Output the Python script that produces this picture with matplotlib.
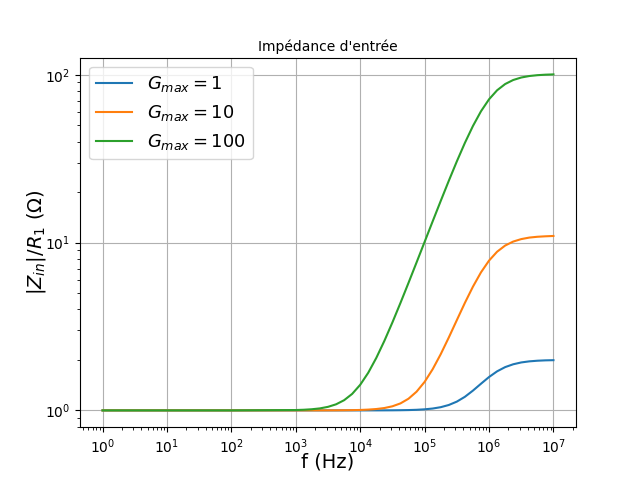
import numpy as np
import matplotlib
matplotlib.use('Agg')
import matplotlib.pyplot as plt

# frequency exponents (log10 Hz), read at eighth decades in the transition
f_exp = [0, 1, 2, 3, 3.125, 3.25, 3.375, 3.5, 3.625, 3.75, 3.875,
         4, 4.125, 4.25, 4.375, 4.5, 4.625, 4.75, 4.875,
         5, 5.125, 5.25, 5.375, 5.5, 5.625, 5.75, 5.875,
         6, 6.125, 6.25, 6.375, 6.5, 6.625, 6.75, 6.875, 7]

# |Zin|/R1
z_g1 = [1.0, 1.0, 1.0, 1.0, 1.0, 1.0, 1.0, 1.0, 1.0, 1.0, 1.0,
        1.0001, 1.0003, 1.0005, 1.0009, 1.0015, 1.0027, 1.0046, 1.0083,
        1.015, 1.026, 1.045, 1.077, 1.128, 1.205, 1.312, 1.442,
        1.581, 1.709, 1.811, 1.883, 1.931, 1.960, 1.977, 1.987, 1.992]
z_g10 = [1.0, 1.0, 1.0, 1.0, 1.0001, 1.0002, 1.0003, 1.0006, 1.0009, 1.0019, 1.0034,
         1.006, 1.011, 1.019, 1.033, 1.058, 1.101, 1.174, 1.293,
         1.479, 1.760, 2.163, 2.718, 3.451, 4.372, 5.461, 6.648,
         7.81, 8.821, 9.601, 10.14, 10.49, 10.71, 10.83, 10.90, 10.95]
z_g100 = [1.0, 1.0, 1.0, 1.005, 1.009, 1.016, 1.028, 1.050, 1.087, 1.150, 1.254,
          1.421, 1.677, 2.056, 2.595, 3.345, 4.371, 5.757, 7.618,
          10.10, 13.39, 17.71, 23.33, 30.47, 39.26, 49.51, 60.60,
          71.42, 80.81, 88.04, 93.06, 96.30, 98.28, 99.43, 100.1, 100.5]

labels = ['$G_{max} = 1$', '$G_{max} = 10$', '$G_{max} = 100$']

freq = np.power(10.0, f_exp)

fig, ax = plt.subplots(figsize=(6.4, 4.8), dpi=100)
for z, lab in zip([z_g1, z_g10, z_g100], labels):
    ax.plot(freq, z, label=lab)

ax.set_xscale('log')
ax.set_yscale('log')
ax.set_title("Impédance d'entrée", fontsize=10, pad=4.5)
ax.set_xlabel('f (Hz)', fontsize=14, labelpad=-2.5)
ax.set_ylabel(r'$|Z_{in}|/R_1$ ($\Omega$)', fontsize=14, labelpad=-2.5)
ax.legend(loc='upper left', fontsize=13)
ax.grid(True)

fig.savefig('out.png')
